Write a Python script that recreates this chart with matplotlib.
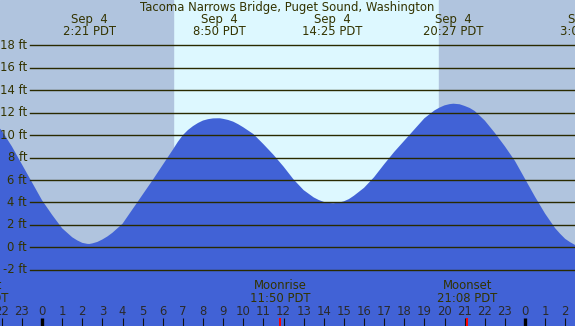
import matplotlib
matplotlib.use("Agg")
import matplotlib.pyplot as plt

# tide height (ft), hours from midnight Sep 4
hours = [-2.1, -2.0, -1.5, -1.0, -0.5, 0.0, 0.5, 1.0, 1.5, 1.75, 2.0, 2.25, 2.35,
         2.5, 2.75, 3.0, 3.25, 3.5, 4.0, 4.5, 5.0, 5.5, 6.0, 6.5, 6.75, 7.0, 7.25,
         7.5, 7.75, 8.0, 8.25, 8.5, 8.75, 8.84, 9.0, 9.25, 9.5, 9.75, 10.0, 10.5,
         11.0, 11.5, 12.0, 12.5, 13.0, 13.5, 13.75, 14.0, 14.25, 14.47, 14.75,
         15.0, 15.25, 15.5, 16.0, 16.5, 17.0, 17.5, 18.0, 18.5, 19.0, 19.5, 19.75,
         20.0, 20.25, 20.44, 20.75, 21.0, 21.25, 21.5, 22.0, 22.5, 23.0, 23.5,
         24.0, 24.5, 25.0, 25.5, 25.75, 26.0, 26.25, 26.5, 27.0]
height = [10.6, 10.4, 9.0, 7.4, 5.8, 4.2, 2.9, 1.7, 0.9, 0.62, 0.4, 0.31, 0.3,
          0.35, 0.48, 0.7, 0.97, 1.3, 2.1, 3.4, 4.7, 6.0, 7.35, 8.7, 9.4, 10.0, 10.45,
          10.8, 11.08, 11.3, 11.42, 11.49, 11.5, 11.5, 11.45, 11.35, 11.2, 10.97, 10.7, 10.1,
          9.2, 8.25, 7.2, 6.05, 5.1, 4.45, 4.22, 4.05, 3.96, 3.93, 3.98,
          4.1, 4.3, 4.6, 5.3, 6.25, 7.4, 8.5, 9.5, 10.5, 11.5, 12.2, 12.45,
          12.65, 12.76, 12.8, 12.75, 12.6, 12.42, 12.15, 11.3, 10.2, 9.0, 7.7,
          6.1, 4.5, 3.0, 1.7, 1.2, 0.75, 0.45, 0.2, 0.0]

# high / low labels along the top
ext_hours = [2.35, 8.833, 14.417, 20.45, 27.05]
ext_days = ["Sep  4", "Sep  4", "Sep  4", "Sep  4", "Sep  5"]
ext_times = ["2:21 PDT", "8:50 PDT", "14:25 PDT", "20:27 PDT", "3:03 PDT"]

# moon events
moon_hours = [-3.18, 11.833, 21.133]
moon_names = ["Moonset", "Moonrise", "Moonset"]
moon_times = ["20:49 PDT", "11:50 PDT", "21:08 PDT"]

sunrise = 6.494
sunset = 19.727
ft_levels = list(range(-2, 20, 2))

xmin, xmax = -42 / 20.125, 533 / 20.125
ymin, ymax = -7.01, 22.04
txt = "#333300"
fs = 8.4

fig = plt.figure(figsize=(5.75, 3.26), dpi=100)
ax = fig.add_axes([0, 0, 1, 1])
ax.set_xlim(xmin, xmax)
ax.set_ylim(ymin, ymax)
ax.axis("off")

ax.axvspan(xmin, xmax, color="#ddf8ff", zorder=0)
ax.axvspan(xmin, sunrise, color="#b0c4de", zorder=1)
ax.axvspan(sunset, xmax, color="#b0c4de", zorder=1)

ax.fill_between(hours, ymin, height, color="#4162d6", lw=0, zorder=2)

x0 = xmin + 29.5 / 20.125
for v in ft_levels:
    ax.plot([x0, xmax], [v, v], color="#2a2a00", lw=1.0, zorder=3)
    ax.text(xmin + 27 / 20.125, v, "%d ft" % v, ha="right", va="center",
            fontsize=fs, color=txt, zorder=4)

ax.text(0.5, 1 - 7.3 / 326, "Tacoma Narrows Bridge, Puget Sound, Washington",
        transform=ax.transAxes, ha="center", va="center", fontsize=fs, color=txt)

for h, d, t in zip(ext_hours, ext_days, ext_times):
    ax.text(h, ymax - 19.8 / 11.22, d, ha="center", va="center", fontsize=fs, color=txt)
    ax.text(h, ymax - 31.8 / 11.22, t, ha="center", va="center", fontsize=fs, color=txt)

for h, n, t in zip(moon_hours, moon_names, moon_times):
    ax.text(h, ymax - 285.5 / 11.22, n, ha="center", va="center", fontsize=fs, color=txt)
    ax.text(h, ymax - 298.5 / 11.22, t, ha="center", va="center", fontsize=fs, color=txt)

# hour ticks along the bottom
tick_top = ymax - 318 / 11.22
for hr in range(-2, 27):
    lab = str(hr % 24)
    ax.text(hr, ymax - 311.5 / 11.22, lab, ha="center", va="center",
            fontsize=fs, color="#2a2a2a", zorder=4)
    if hr % 24 == 0:
        ax.plot([hr, hr], [ymin, tick_top], color="black", lw=2.4, zorder=4,
                solid_capstyle="butt")
    else:
        ax.plot([hr, hr], [ymin, tick_top], color="#111111", lw=0.8, zorder=4,
                solid_capstyle="butt")
for h in moon_hours:
    ax.plot([h, h], [ymin, tick_top], color="red", lw=1.4, zorder=5,
            solid_capstyle="butt")

fig.savefig("out.png", dpi=100)
